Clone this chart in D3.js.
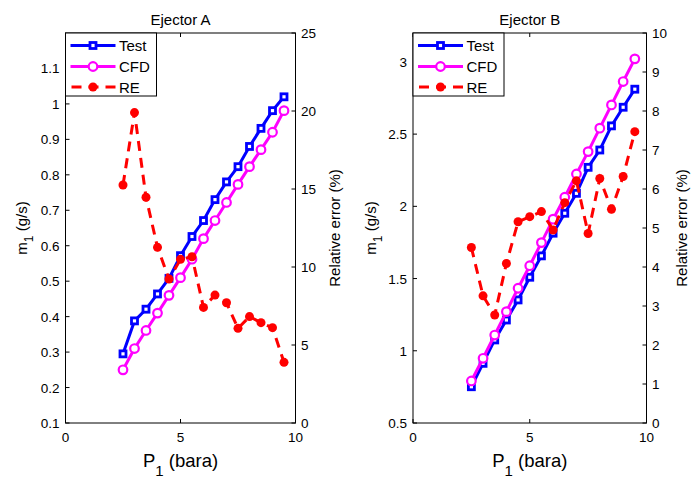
<!DOCTYPE html>
<html><head><meta charset="utf-8">
<script src="https://cdn.jsdelivr.net/npm/d3@7"></script>
<style>body{margin:0;background:#fff}svg{display:block}text{font-family:"Liberation Sans",Arial,sans-serif}</style>
</head><body>
<svg id="c" width="692" height="480"></svg>
<script>
const pressure = [2.5,3,3.5,4,4.5,5,5.5,6,6.5,7,7.5,8,8.5,9,9.5];
const testA = [0.295,0.388,0.421,0.464,0.508,0.572,0.626,0.671,0.730,0.780,0.823,0.880,0.931,0.981,1.020];
const cfdA  = [0.250,0.310,0.361,0.410,0.460,0.510,0.562,0.620,0.671,0.722,0.773,0.823,0.871,0.920,0.981];
const reA   = [15.26,19.9,14.47,11.26,9.23,10.49,10.66,7.41,8.2,7.71,6.07,6.82,6.43,6.11,3.89];
const testB = [0.751,0.913,1.075,1.213,1.352,1.509,1.657,1.814,1.952,2.09,2.27,2.39,2.557,2.686,2.811];
const cfdB  = [0.791,0.948,1.109,1.271,1.433,1.589,1.749,1.911,2.063,2.224,2.379,2.541,2.702,2.864,3.021];
const reB   = [4.5,3.26,2.77,4.09,5.16,5.29,5.42,4.95,5.65,6.21,4.86,6.27,5.48,6.32,7.47];
const xTicks = [0,5,10];
const yTicksA = [0.1,0.2,0.3,0.4,0.5,0.6,0.7,0.8,0.9,1,1.1];
const y2TicksA = [0,5,10,15,20,25];
const yTicksB = [0.5,1,1.5,2,2.5,3];
const y2TicksB = [0,1,2,3,4,5,6,7,8,9,10];
const seriesNames = ["Test","CFD","RE"];

const svg = d3.select("#c");
const plotTop = 33, plotBottom = 423;

function panel(opt){
  const g = svg.append("g");
  const x = d3.scaleLinear().domain([0,10]).range([opt.x0, opt.x1]);
  const y = d3.scaleLinear().domain(opt.yDom).range([plotBottom, plotTop]);
  const y2 = d3.scaleLinear().domain(opt.y2Dom).range([plotBottom, plotTop]);
  g.append("rect").attr("x",opt.x0).attr("y",plotTop).attr("width",opt.x1-opt.x0).attr("height",plotBottom-plotTop)
    .attr("fill","none").attr("stroke","#000").attr("stroke-width",1);
  const tl = 4, fs = 13.5;
  g.selectAll(".xt").data(opt.xTicks).join("line")
    .attr("x1",d=>x(d)).attr("x2",d=>x(d)).attr("y1",plotBottom).attr("y2",plotBottom-tl).attr("stroke","#000");
  g.selectAll(".xtt").data(opt.xTicks).join("line")
    .attr("x1",d=>x(d)).attr("x2",d=>x(d)).attr("y1",plotTop).attr("y2",plotTop+tl).attr("stroke","#000");
  g.selectAll(".xl").data(opt.xTicks).join("text")
    .attr("x",d=>x(d)).attr("y",plotBottom+19).attr("text-anchor","middle").attr("font-size",fs).text(d=>d);
  g.selectAll(".yt").data(opt.yTicks).join("line")
    .attr("x1",opt.x0).attr("x2",opt.x0+tl).attr("y1",d=>y(d)).attr("y2",d=>y(d)).attr("stroke","#000");
  g.selectAll(".yl").data(opt.yTicks).join("text")
    .attr("x",opt.x0-6).attr("y",d=>y(d)+5).attr("text-anchor","end").attr("font-size",fs).text(d=>d);
  g.selectAll(".y2t").data(opt.y2Ticks).join("line")
    .attr("x1",opt.x1).attr("x2",opt.x1-tl).attr("y1",d=>y2(d)).attr("y2",d=>y2(d)).attr("stroke","#000");
  g.selectAll(".y2l").data(opt.y2Ticks).join("text")
    .attr("x",opt.x1+5.5).attr("y",d=>y2(d)+5).attr("text-anchor","start").attr("font-size",fs).text(d=>d);
  g.append("text").attr("x",(opt.x0+opt.x1)/2).attr("y",25).attr("text-anchor","middle").attr("font-size",15).text(opt.title);
  const xl = g.append("text").attr("x",(opt.x0+opt.x1)/2).attr("y",467).attr("text-anchor","middle").attr("font-size",18.5);
  xl.append("tspan").text("P");
  xl.append("tspan").attr("dy",9).attr("font-size",15).text("1");
  xl.append("tspan").attr("dy",-9).text(" (bara)");
  const yl = g.append("text").attr("transform",`translate(${opt.ylx},228) rotate(-90)`)
    .attr("text-anchor","middle").attr("font-size",15);
  yl.append("tspan").text("m");
  yl.append("tspan").attr("dy",6).attr("font-size",12).text("1");
  yl.append("tspan").attr("dy",-6).text(" (g/s)");
  g.append("text").attr("transform",`translate(${opt.y2lx},228) rotate(-90)`)
    .attr("text-anchor","middle").attr("font-size",15).text("Relative error (%)");

  const line = d3.line().x(d=>x(d[0])).y(d=>d[1]);
  const tData = pressure.map((p,i)=>[p,y(opt.test[i])]);
  const cData = pressure.map((p,i)=>[p,y(opt.cfd[i])]);
  const rData = pressure.map((p,i)=>[p,y2(opt.re[i])]);
  const drawTest = (gg,data)=>{
    gg.append("path").attr("d",line(data)).attr("fill","none").attr("stroke","#0000ff").attr("stroke-width",3);
    gg.selectAll(".sq").data(data).join("rect").attr("x",d=>x(d[0])-3).attr("y",d=>d[1]-3)
      .attr("width",6).attr("height",6).attr("fill","#fff").attr("stroke","#0000ff").attr("stroke-width",2.8);
  };
  const drawCfd = (gg,data)=>{
    gg.append("path").attr("d",line(data)).attr("fill","none").attr("stroke","#ff00ff").attr("stroke-width",3);
    gg.selectAll(".ci").data(data).join("circle").attr("cx",d=>x(d[0])).attr("cy",d=>d[1]).attr("r",4.3)
      .attr("fill","#fff").attr("stroke","#ff00ff").attr("stroke-width",2.2);
  };
  const drawRe = (gg,data)=>{
    gg.append("path").attr("d",line(data)).attr("fill","none").attr("stroke","#ff0000").attr("stroke-width",3).attr("stroke-dasharray","10,7");
    gg.selectAll(".re").data(data).join("circle").attr("cx",d=>x(d[0])).attr("cy",d=>d[1]).attr("r",4.5).attr("fill","#ff0000");
  };
  drawTest(g.append("g"),tData);
  drawCfd(g.append("g"),cData);
  drawRe(g.append("g"),rData);

  const lg = g.append("g");
  lg.append("rect").attr("x",opt.x0).attr("y",plotTop).attr("width",91).attr("height",63)
    .attr("fill","#fff").attr("stroke","#000").attr("stroke-width",1);
  const lx0 = opt.x0+5, lx1 = opt.x0+50;
  const rows = [plotTop+12.5, plotTop+33.5, plotTop+54];
  seriesNames.forEach((nm,i)=>{
    const yy = rows[i];
    const seg = [[x.invert(lx0),yy],[x.invert(lx1),yy]];
    const mx = (lx0+lx1)/2;
    const gg = lg.append("g");
    if(i===0){
      gg.append("path").attr("d",line(seg)).attr("stroke","#0000ff").attr("stroke-width",3);
      gg.append("rect").attr("x",mx-3).attr("y",yy-3).attr("width",6).attr("height",6).attr("fill","#fff").attr("stroke","#0000ff").attr("stroke-width",2.8);
    } else if(i===1){
      gg.append("path").attr("d",line(seg)).attr("stroke","#ff00ff").attr("stroke-width",3);
      gg.append("circle").attr("cx",mx).attr("cy",yy).attr("r",4.3).attr("fill","#fff").attr("stroke","#ff00ff").attr("stroke-width",2.2);
    } else {
      gg.append("path").attr("d",line(seg)).attr("stroke","#ff0000").attr("stroke-width",3).attr("stroke-dasharray","10,7").attr("stroke-dashoffset",-1);
      gg.append("circle").attr("cx",mx).attr("cy",yy).attr("r",4.5).attr("fill","#ff0000");
    }
    lg.append("text").attr("x",lx1+3.5).attr("y",yy+5.5).attr("font-size",15).text(nm);
  });
}

panel({x0:65.5,x1:295.5,yDom:[0.1,1.2],y2Dom:[0,25],xTicks,yTicks:yTicksA,y2Ticks:y2TicksA,
  title:"Ejector A",test:testA,cfd:cfdA,re:reA,ylx:27,y2lx:340});
panel({x0:413,x1:646.5,yDom:[0.5,3.2],y2Dom:[0,10],xTicks,yTicks:yTicksB,y2Ticks:y2TicksB,
  title:"Ejector B",test:testB,cfd:cfdB,re:reB,ylx:376,y2lx:687});
</script>
</body></html>
